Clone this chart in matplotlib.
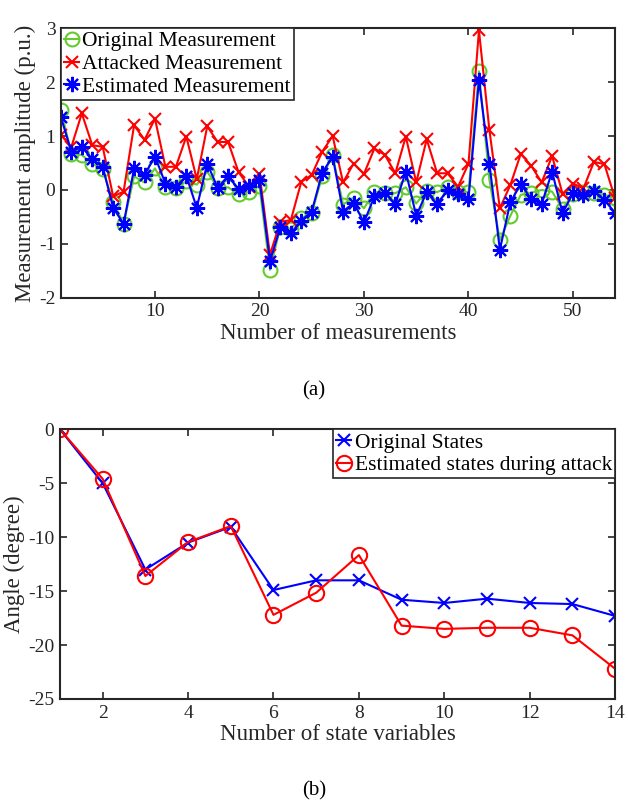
import matplotlib
matplotlib.use("Agg")
import matplotlib.pyplot as plt
import numpy as np

plt.rcParams['font.family'] = ['Liberation Serif', 'DejaVu Serif']
plt.rcParams['axes.unicode_minus'] = False

# ---- Top chart data ----
meas_idx = list(range(1, 55))
original_meas = [1.49, 0.67, 0.65, 0.49, 0.38, -0.22, -0.63, 0.25, 0.14, 0.40,
                 0.05, 0.04, 0.16, 0.10, 0.34, 0.04, 0.05, -0.08, -0.03, 0.07,
                 -1.48, -0.69, -0.72, -0.52, -0.43, 0.25, 0.64, -0.27, -0.14, -0.34,
                 -0.03, -0.05, -0.06, 0.05, -0.25, -0.01, -0.04, 0.05, -0.03, -0.04,
                 2.20, 0.19, -0.93, -0.48, -0.09, -0.05, 0.00, -0.03, -0.35, -0.07,
                 -0.03, -0.06, -0.09, -0.15]
attacked_meas = [1.02, 0.80, 1.42, 0.83, 0.80, -0.12, -0.03, 1.20, 0.93, 1.32,
                 0.43, 0.43, 0.99, 0.20, 1.18, 0.89, 0.89, 0.33, 0.06, 0.30,
                 -1.20, -0.59, -0.56, 0.15, 0.28, 0.71, 1.00, 0.14, 0.49, 0.30,
                 0.77, 0.65, 0.31, 0.99, 0.14, 0.94, 0.31, 0.31, 0.06, 0.49,
                 2.96, 1.11, -0.34, 0.09, 0.67, 0.45, 0.14, 0.63, -0.07, 0.12,
                 0.03, 0.52, 0.48, -0.14]
estimated_meas = [1.35, 0.71, 0.80, 0.57, 0.43, -0.33, -0.63, 0.40, 0.28, 0.62,
                  0.12, 0.06, 0.26, -0.33, 0.49, 0.04, 0.26, 0.01, 0.07, 0.19,
                  -1.32, -0.69, -0.80, -0.57, -0.40, 0.32, 0.62, -0.40, -0.24, -0.60,
                  -0.12, -0.06, -0.26, 0.34, -0.48, -0.04, -0.26, 0.00, -0.07, -0.17,
                  2.04, 0.49, -1.11, -0.23, 0.11, -0.17, -0.26, 0.34, -0.43, -0.06,
                  -0.09, -0.02, -0.18, -0.42]

# ---- Bottom chart data ----
state_idx = list(range(1, 15))
original_states = [0.0, -5.0, -13.0, -10.5, -9.05, -14.9, -14.0, -14.0, -15.8, -16.1,
                   -15.7, -16.1, -16.2, -17.3]
estimated_states = [0.0, -4.6, -13.6, -10.45, -8.97, -17.2, -15.15, -11.66, -18.2, -18.5,
                    -18.4, -18.4, -19.1, -22.2]

green = '#62cc2e'
spine_c = '#262626'
asterisk = (8, 2, 0)

fig = plt.figure(figsize=(6.28, 8.05), dpi=100)
ax1 = fig.add_axes([0.097, 0.630, 0.882, 0.335])
ax2 = fig.add_axes([0.0955, 0.1317, 0.884, 0.335])

ax1.plot(meas_idx, original_meas, '-o', color=green, lw=1.5, ms=10,
         mfc='none', mew=1.5, label='Original Measurement')
ax1.plot(meas_idx, attacked_meas, '-x', color='red', lw=1.5, ms=9,
         mew=1.5, label='Attacked Measurement')
ax1.plot(meas_idx, estimated_meas, '-', color='blue', lw=1.5, marker=asterisk,
         ms=11, mew=1.5, label='Estimated Measurement')
ax1.set_xlim(1, 54)
ax1.set_ylim(-2, 3)
ax1.set_xticks([10, 20, 30, 40, 50])
ax1.set_yticks([-2, -1, 0, 1, 2, 3])
ax1.set_xlabel('Number of measurements', fontsize=16.5, labelpad=2)
ax1.set_ylabel('Measurement amplitude (p.u.)', fontsize=16.5, labelpad=2)
leg1 = ax1.legend(loc='upper left', fontsize=15.5, handlelength=0.7,
                  handletextpad=0.15, borderaxespad=0, borderpad=0.15,
                  labelspacing=0.12, fancybox=False, framealpha=1,
                  edgecolor=spine_c)
leg1.get_frame().set_linewidth(1.2)
fig.text(0.5, 0.515, '(a)', ha='center', va='center', fontsize=15)

ax2.plot(state_idx, original_states, '-x', color='blue', lw=1.5, ms=8,
         mew=1.5, label='Original States')
ax2.plot(state_idx, estimated_states, '-o', color='red', lw=1.5, ms=11,
         mfc='none', mew=1.5, label='Estimated states during attack')
ax2.set_xlim(1, 14)
ax2.set_ylim(-25, 0)
ax2.set_xticks([2, 4, 6, 8, 10, 12, 14])
ax2.set_yticks([-25, -20, -15, -10, -5, 0])
ax2.set_xlabel('Number of state variables', fontsize=16.5, labelpad=2)
ax2.set_ylabel('Angle (degree)', fontsize=16.5, labelpad=2)
leg2 = ax2.legend(loc='upper right', fontsize=15.5, handlelength=0.7,
                  handletextpad=0.15, borderaxespad=0, borderpad=0.15,
                  labelspacing=0.12, fancybox=False, framealpha=1,
                  edgecolor=spine_c)
leg2.get_frame().set_linewidth(1.2)
fig.text(0.5, 0.018, '(b)', ha='center', va='center', fontsize=15)

for ax in (ax1, ax2):
    ax.tick_params(direction='in', top=True, right=True, labelsize=14,
                   length=5, width=1.2, colors=spine_c, pad=4)
    for s in ax.spines.values():
        s.set_linewidth(1.5)
        s.set_color(spine_c)
    ax.xaxis.label.set_color(spine_c)
    ax.yaxis.label.set_color(spine_c)

fig.savefig('out.png', dpi=100)
